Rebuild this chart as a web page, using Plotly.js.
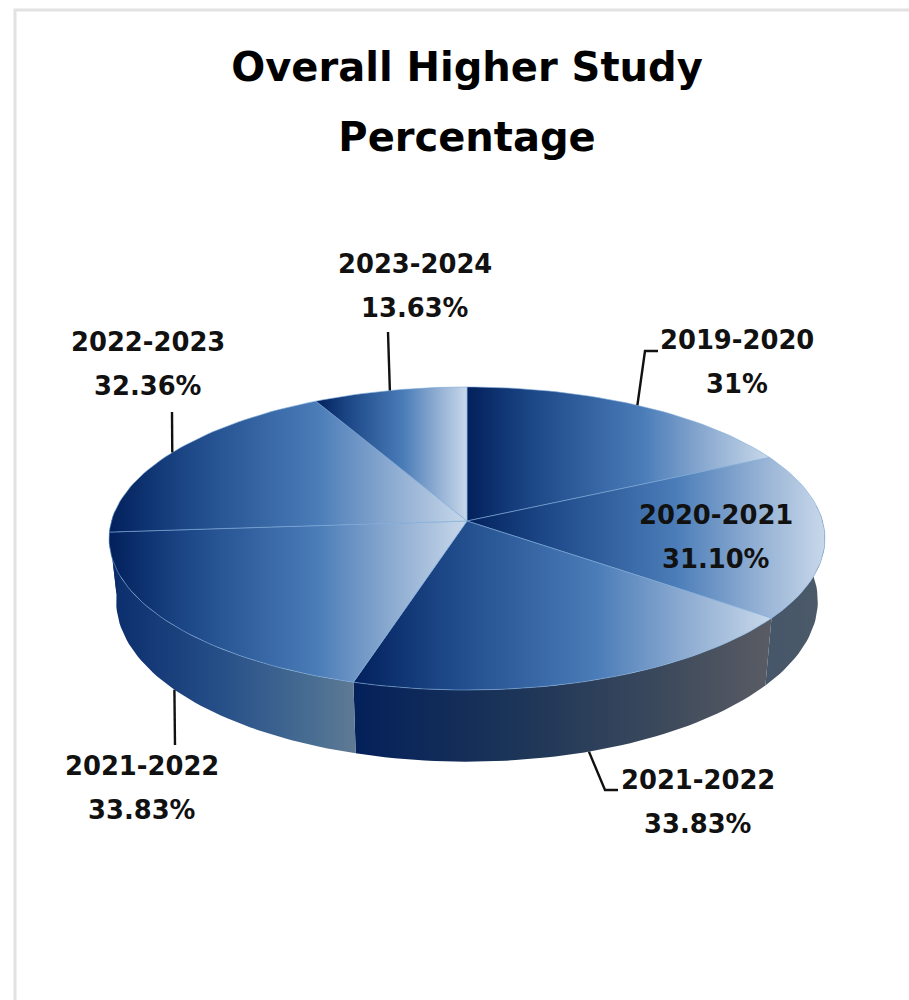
<!DOCTYPE html>
<html>
<head>
<meta charset="utf-8">
<script src="https://cdn.plot.ly/plotly-3.0.1.min.js"></script>
<style>html,body{margin:0;padding:0;background:#fff;}</style>
</head>
<body>
<div id="chart" style="width:909px;height:1000px"></div>
<script>
// ---- data ----
const categories = ["2019-2020","2020-2021","2021-2022","2021-2022","2022-2023","2023-2024"];
const values = [31, 31.10, 33.83, 33.83, 32.36, 13.63];
const valueLabels = ["31%","31.10%","33.83%","33.83%","32.36%","13.63%"];
const chartTitle = "Overall Higher Study<br>Percentage";

// ---- label placement (centre of the name line), leader elbows ----
const labelX = [737, 716, 698, 142, 148, 415];
const labelY = [340, 515, 780, 766, 342, 264];
const leaderElbows = [[[645,351],[658,351]], [], [[605,790],[618,790]], [[175,745]], [[172,412]], [[388,332]]];
const leaderOnWall = [false,false,true,true,false,false];

// ---- pie geometry: a tilted disc seen in perspective ----
const cx = 467, cy = 521, B = 355.6, A = 149.5, K = 0.1155;
const lowX = 0.98, lowY = 1.06, lowOff = 61.5;
const wallFrom = 84, wallTo = 274;

function discPoint(th){
  const r = th*Math.PI/180, x = Math.sin(r), y = -Math.cos(r), d = 1 - K*y;
  return [B*x/d, A*y/d];
}
const topPt = th => { const p = discPoint(th); return [cx+p[0], cy+p[1]]; };
const lowPt = th => { const p = discPoint(th); return [cx+lowX*p[0], cy+lowY*p[1]+lowOff]; };
function arc(fn, a, b){
  const n = Math.max(2, Math.ceil(Math.abs(b-a)/1.5)), out = [];
  for(let i=0;i<=n;i++) out.push(fn(a+(b-a)*i/n));
  return out;
}

const total = values.reduce((s,v)=>s+v,0);
const starts = [], ends = [];
values.reduce((acc,v,i)=>{ starts[i]=acc/total*360; ends[i]=(acc+v)/total*360; return acc+v; },0);

const topScale = [[0,'#02205c'],[0.22,'#1d4888'],[0.58,'#4a7cb8'],[0.8,'#8fadd2'],[1,'#c8d8ea']];
const wallScales = [
  null,
  [[0,'#46566a'],[1,'#4c5a68']],
  [[0,'#04205a'],[0.4,'#1d3558'],[0.75,'#3d4a5c'],[1,'#5a5c64']],
  [[0,'#0a2c6c'],[0.45,'#264f88'],[0.8,'#466c92'],[1,'#5f7a94']],
  [[0,'#0a2c6c'],[1,'#0a2c6c']],
  null
];

const traces = [];
const poly = (pts, grad, line) => ({
  x: pts.map(p=>p[0]), y: pts.map(p=>p[1]), mode:'lines', fill:'toself',
  fillgradient:{type:'horizontal', colorscale:grad},
  line: line || {width:0, color:'rgba(0,0,0,0)'}, hoverinfo:'skip', showlegend:false
});

// side walls
values.forEach((v,i)=>{
  if(!wallScales[i]) return;
  const a = Math.max(starts[i], wallFrom), b = Math.min(ends[i], wallTo);
  if(b<=a) return;
  const pts = arc(topPt,a,b).concat(arc(lowPt,b,a));
  pts.push(pts[0]);
  traces.push(poly(pts, wallScales[i]));
});
// top faces
values.forEach((v,i)=>{
  const pts = [[cx,cy]].concat(arc(topPt,starts[i],ends[i]));
  pts.push([cx,cy]);
  traces.push(poly(pts, topScale, {width:0.9, color:'rgba(125,170,215,0.65)'}));
});
// leaders
values.forEach((v,i)=>{
  if(!leaderElbows[i].length) return;
  const mid = (starts[i]+ends[i])/2;
  const pts = [(leaderOnWall[i]?lowPt:topPt)(mid)].concat(leaderElbows[i]);
  traces.push({x:pts.map(p=>p[0]), y:pts.map(p=>p[1]), mode:'lines',
    line:{color:'#111',width:2.4}, hoverinfo:'skip', showlegend:false});
});
// frame
traces.push({x:[15,15,909], y:[1000,10,10], mode:'lines',
  line:{color:'#e2e2e2',width:3}, hoverinfo:'skip', showlegend:false});

const labelFont = {family:'"DejaVu Sans", sans-serif', size:25.8, color:'#111'};
const annotations = [];
categories.forEach((c,i)=>{
  annotations.push({x:labelX[i], y:labelY[i], xref:'x', yref:'y', text:'<b>'+c+'</b>', showarrow:false, font:labelFont});
  annotations.push({x:labelX[i], y:labelY[i]+44, xref:'x', yref:'y', text:'<b>'+valueLabels[i]+'</b>', showarrow:false, font:labelFont});
});

const layout = {
  width:909, height:1000, margin:{l:0,r:0,t:0,b:0},
  paper_bgcolor:'#fff', plot_bgcolor:'#fff', showlegend:false,
  title:{text:'<b>'+chartTitle.replace('<br>','</b><br><b>')+'</b>', x:467/909, xref:'paper', xanchor:'center',
         y:1-0.05, yref:'container', yanchor:'top',
         font:{family:'"DejaVu Sans", sans-serif', size:40, color:'#000'}},
  xaxis:{range:[0,909], visible:false, fixedrange:true},
  yaxis:{range:[1000,0], visible:false, fixedrange:true},
  annotations
};
Plotly.newPlot('chart', traces, layout, {displayModeBar:false, responsive:false}).then(()=>{
  const lines = document.querySelectorAll('.gtitle tspan.line');
  lines.forEach((t,i)=>{ t.setAttribute('dy', 0); t.setAttribute('y', (81 + i*70)); });
});
</script>
</body>
</html>
